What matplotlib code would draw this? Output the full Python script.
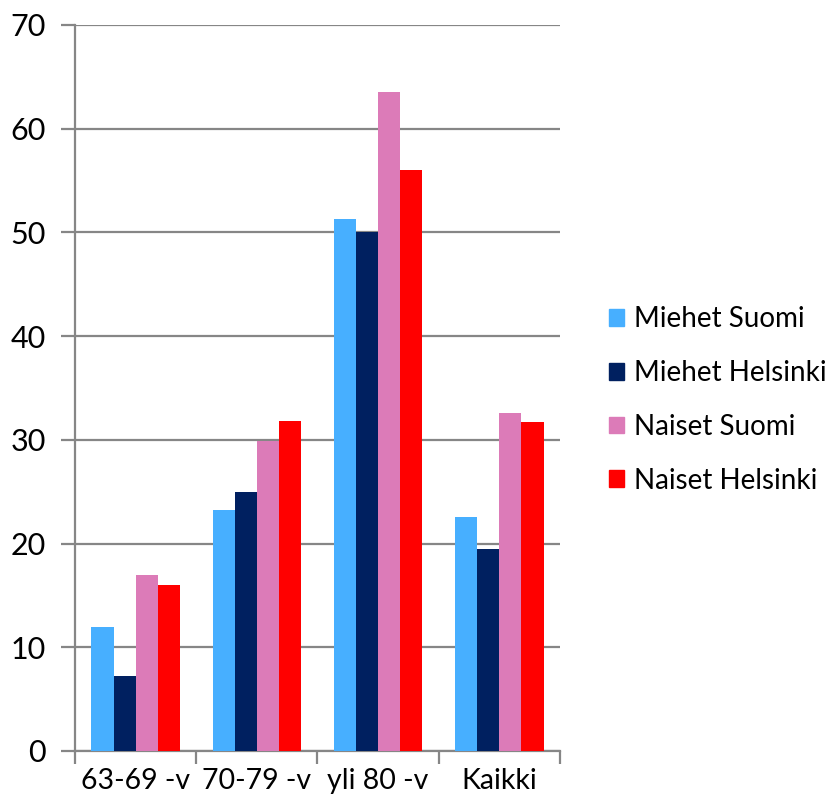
import numpy as np
import matplotlib.pyplot as plt
from matplotlib.patches import Patch

categories = ["63-69 -v", "70-79 -v", "yli 80 -v", "Kaikki"]
series_names = ["Miehet Suomi", "Miehet Helsinki", "Naiset Suomi", "Naiset Helsinki"]
miehet_suomi = [12.0, 23.2, 51.3, 22.6]
miehet_helsinki = [7.2, 25.0, 50.0, 19.5]
naiset_suomi = [17.0, 29.9, 63.5, 32.6]
naiset_helsinki = [16.0, 31.8, 56.0, 31.7]
colors = ["#47afff", "#002060", "#dc7bb8", "#ff0000"]

plt.rcParams['font.family'] = ['Lato', 'DejaVu Sans']

fig = plt.figure(figsize=(8.37, 8.08), dpi=100)
ax = fig.add_axes([75 / 837, 57 / 808, 485 / 837, 726 / 808])

x = np.arange(len(categories))
w = 0.182
for i, vals in enumerate([miehet_suomi, miehet_helsinki, naiset_suomi, naiset_helsinki]):
    ax.bar(x + (i - 1.5) * w, vals, w, color=colors[i], zorder=3)

ax.set_xlim(-0.5, len(categories) - 0.5)
ax.set_ylim(0, 70)
ax.set_yticks(range(0, 71, 10))
ax.yaxis.grid(True, color="#868686", linewidth=1.6, zorder=0)
ax.set_xticks(x)
ax.set_xticklabels(categories, fontsize=20.5)
ax.tick_params(axis="x", length=0, pad=12)
ax.set_xticks(np.arange(-0.5, len(categories)), minor=True)
ax.tick_params(axis="x", which="minor", length=9, width=1.6, color="#868686")
ax.tick_params(axis="y", labelsize=22, length=10, width=1.6, color="#868686", pad=11)
for s in ["top", "right"]:
    ax.spines[s].set_visible(False)
for s in ["left", "bottom"]:
    ax.spines[s].set_color("#868686")
    ax.spines[s].set_linewidth(1.6)

handles = [Patch(color=c, label=n) for c, n in zip(colors, series_names)]
fig.legend(handles=handles, loc="center left", bbox_to_anchor=(584 / 837, 0.505),
           frameon=False, fontsize=20, handlelength=0.55, handleheight=0.55,
           handletextpad=0.35, labelspacing=1.0)

fig.savefig("out.png", dpi=100)
